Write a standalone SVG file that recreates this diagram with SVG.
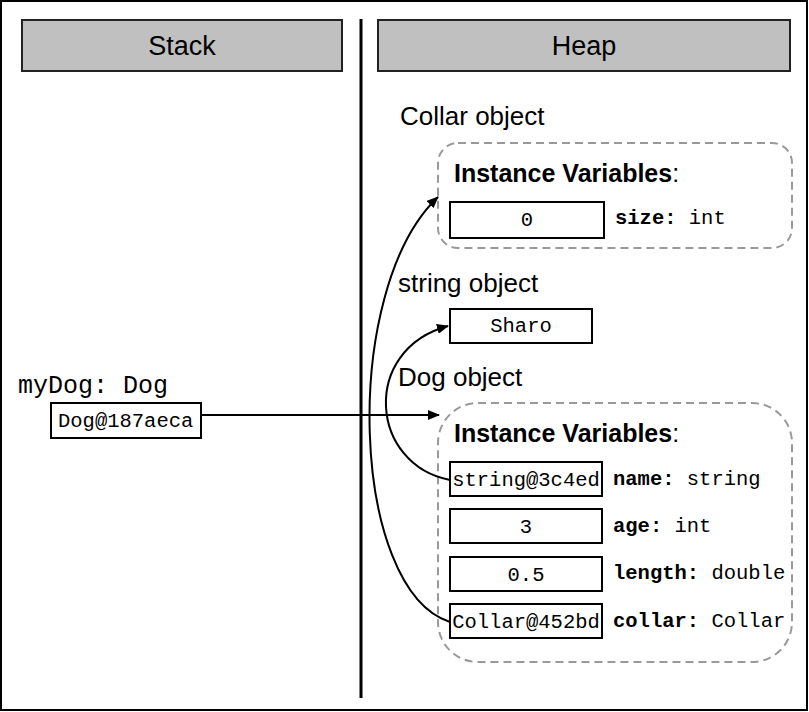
<svg xmlns="http://www.w3.org/2000/svg" width="809" height="712" viewBox="0 0 809 712">
<style>
.hdr{fill:#c0c0c0;stroke:#222;stroke-width:2}
.htxt{font-family:"Liberation Sans",Arial,sans-serif;font-size:27px;fill:#000;text-anchor:middle}
.lbl{font-family:"Liberation Sans",Arial,sans-serif;font-size:26px;fill:#000}
.iv{font-family:"Liberation Sans",Arial,sans-serif;font-size:25px;fill:#000}
.mono{font-family:"Liberation Mono","Courier New",monospace;font-size:20.5px;fill:#000}
.val{stroke:#000;stroke-width:2;fill:#fff}
.dash{fill:none;stroke:#999;stroke-width:2;stroke-dasharray:8,5}
.conn{fill:none;stroke:#000;stroke-width:2}
</style>
<defs>
<marker id="ah" markerWidth="12" markerHeight="10" refX="11" refY="5" orient="auto" markerUnits="userSpaceOnUse">
<path d="M0,0 L12,5 L0,10 z" fill="#000"/>
</marker>
</defs>
<rect x="1" y="1" width="806" height="709" fill="#fff" stroke="#000" stroke-width="2"/>
<g id="stack-header">
<rect class="hdr" x="22" y="20" width="320" height="51"/>
<text class="htxt" x="182" y="55">Stack</text>
</g>
<g id="heap-header">
<rect class="hdr" x="378" y="20" width="412" height="51"/>
<text class="htxt" x="584" y="55">Heap</text>
</g>
<line x1="361" y1="19" x2="361" y2="698" stroke="#000" stroke-width="3"/>
<g id="mydog">
<text class="mono" x="18" y="393" style="font-size:25px">myDog: Dog</text>
<rect class="val" x="51" y="403" width="150" height="35"/>
<text class="mono" x="58" y="427">Dog@187aeca</text>
</g>
<g id="collar-object">
<text class="lbl" x="400" y="125">Collar object</text>
<rect class="dash" x="438" y="143" width="354" height="105" rx="20"/>
<text class="iv" x="454" y="182"><tspan font-weight="bold">Instance Variables</tspan>:</text>
<rect class="val" x="450" y="202" width="154" height="36"/>
<text class="mono" x="527" y="226" text-anchor="middle">0</text>
<text class="mono" x="615" y="224"><tspan font-weight="bold">size:</tspan> int</text>
</g>
<g id="string-object">
<text class="lbl" x="398" y="292">string object</text>
<rect class="val" x="450" y="309" width="142" height="34"/>
<text class="mono" x="521" y="332" text-anchor="middle">Sharo</text>
</g>
<g id="dog-object">
<text class="lbl" x="398" y="386">Dog object</text>
<rect class="dash" x="438" y="403" width="354" height="259" rx="40"/>
<text class="iv" x="454" y="442"><tspan font-weight="bold">Instance Variables</tspan>:</text>
<rect class="val" x="450" y="462" width="152" height="34"/>
<text class="mono" x="526" y="486" text-anchor="middle">string@3c4ed</text>
<text class="mono" x="613" y="485"><tspan font-weight="bold">name:</tspan> string</text>
<rect class="val" x="450" y="509" width="152" height="34"/>
<text class="mono" x="526" y="533" text-anchor="middle">3</text>
<text class="mono" x="613" y="532"><tspan font-weight="bold">age:</tspan> int</text>
<rect class="val" x="450" y="557" width="152" height="34"/>
<text class="mono" x="526" y="581" text-anchor="middle">0.5</text>
<text class="mono" x="613" y="579"><tspan font-weight="bold">length:</tspan> double</text>
<rect class="val" x="450" y="604" width="152" height="34"/>
<text class="mono" x="526" y="628" text-anchor="middle">Collar@452bd</text>
<text class="mono" x="613" y="627"><tspan font-weight="bold">collar:</tspan> Collar</text>
</g>
<g id="connectors">
<line class="conn" x1="201" y1="415" x2="439" y2="415" marker-end="url(#ah)"/>
<path class="conn" d="M450,480 C370,465 360,350 448,326" marker-end="url(#ah)"/>
<path class="conn" d="M450,622 C350,590 340,290 438,197" marker-end="url(#ah)"/>
</g>
</svg>
